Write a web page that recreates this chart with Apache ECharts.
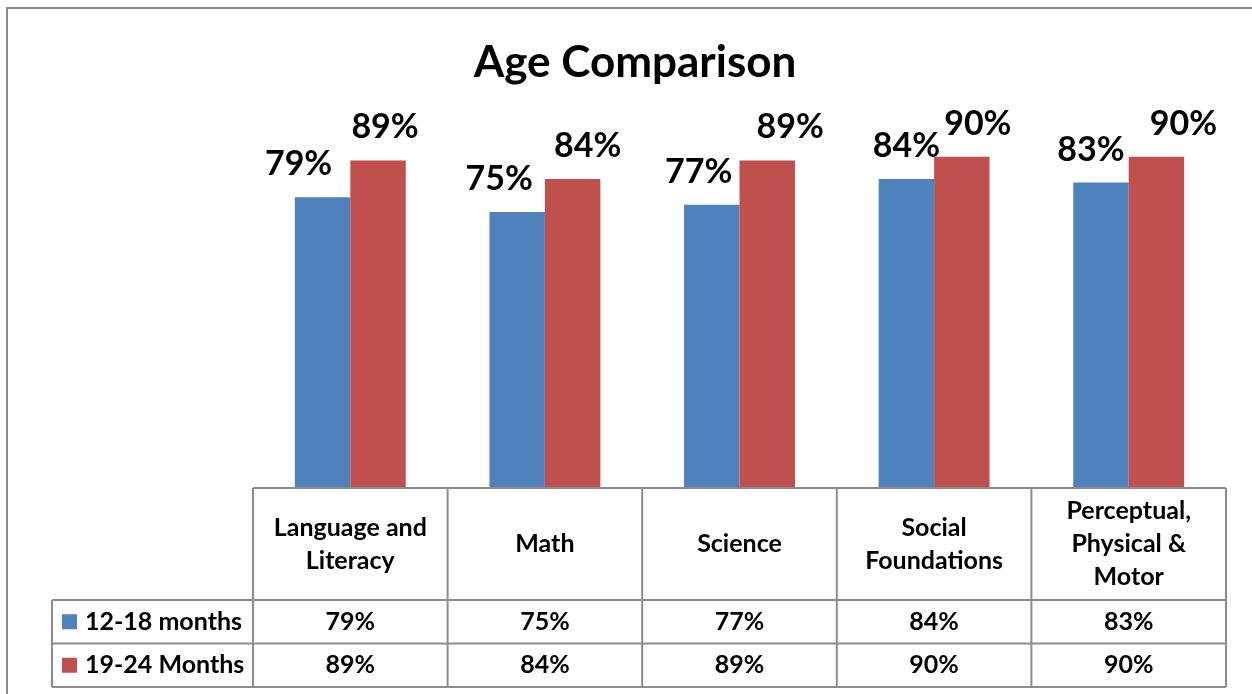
<!DOCTYPE html>
<html>
<head>
<meta charset="utf-8">
<script src="https://cdn.jsdelivr.net/npm/echarts@6/dist/echarts.min.js"></script>
<style>
html,body{margin:0;padding:0;background:#fff;}
#chart{width:1252px;height:694px;}
</style>
</head>
<body>
<div id="chart"></div>
<script>
const title = 'Age Comparison';
const categories = ['Language and\nLiteracy', 'Math', 'Science', 'Social\nFoundations', 'Perceptual,\nPhysical &\nMotor'];
const seriesNames = ['12-18 months', '19-24 Months'];
const values1218 = [79, 75, 77, 84, 83];
const values1924 = [89, 84, 89, 90, 90];

// layout-only: label nudges (px) reproducing the hand-placed labels
const labelShift1218 = [-24, -18, -13, 0, -10];
const labelShift1924 = [7, 15, 23, 16, 27];

const FONT = 'Lato';
const BLUE = '#4F81BD';
const RED = '#C0504D';
const GRID_LINE = '#8C8C8C';
const TABLE_FS = 25;

const chart = echarts.init(document.getElementById('chart'), null, {renderer: 'canvas'});

function mkData(vals, shifts) {
  return vals.map((v, i) => ({
    value: v,
    label: {offset: [shifts[i], 0]}
  }));
}

const option = {
  animation: false,
  backgroundColor: '#fff',
  title: {
    text: title,
    left: 630,
    top: 36,
    textAlign: 'center',
    textStyle: {fontFamily: FONT, fontWeight: 'bold', fontSize: 44, color: '#000'}
  },
  grid: {left: 253, right: 26, top: 120, bottom: 206, containLabel: false},
  xAxis: {
    type: 'category',
    data: categories,
    axisLine: {show: false},
    axisTick: {show: false},
    axisLabel: {
      interval: 0,
      margin: 56,
      verticalAlign: 'middle',
      fontFamily: FONT, fontWeight: 'bold', fontSize: TABLE_FS, lineHeight: 33, color: '#000'
    }
  },
  yAxis: {type: 'value', min: 0, max: 100, show: false},
  series: [
    {
      name: seriesNames[0], type: 'bar', data: mkData(values1218, labelShift1218),
      barWidth: '28.5%', barGap: '0%',
      itemStyle: {color: BLUE},
      label: {show: true, position: 'top', distance: 16, formatter: '{c}%',
        fontFamily: FONT, fontWeight: 'bold', fontSize: 34, color: '#000'}
    },
    {
      name: seriesNames[1], type: 'bar', data: mkData(values1924, labelShift1924),
      barWidth: '28.5%', barGap: '0%',
      itemStyle: {color: RED},
      label: {show: true, position: 'top', distance: 16, formatter: '{c}%',
        fontFamily: FONT, fontWeight: 'bold', fontSize: 34, color: '#000'}
    }
  ]
};
chart.setOption(option);

// Data table drawn below the plot, aligned with the category axis
function buildTable() {
  const c0 = chart.convertToPixel({xAxisIndex: 0}, 0);
  const c1 = chart.convertToPixel({xAxisIndex: 0}, 1);
  const band = c1 - c0;
  const xStart = c0 - band / 2;
  const xEnd = xStart + band * categories.length;
  const yBase = chart.convertToPixel({yAxisIndex: 0}, 0);
  const headerH = 112;
  const rowH = 43.5;
  const legendLeft = 52;
  const yRow1 = yBase + headerH;
  const yRow2 = yRow1 + rowH;
  const yEnd = yRow2 + rowH;
  const lw = 2;
  const els = [];
  const line = (x1, y1, x2, y2) => els.push({
    type: 'line', z: 10, shape: {x1, y1, x2, y2},
    style: {stroke: GRID_LINE, lineWidth: lw}
  });
  // outer chart border
  els.push({type: 'rect', z: 0, shape: {x: 7, y: 8, width: 1300, height: 720},
    style: {fill: null, stroke: '#8A8A8A', lineWidth: 2}});
  // horizontal lines
  line(xStart, yBase, xEnd, yBase);
  line(legendLeft, yRow1, xEnd, yRow1);
  line(legendLeft, yRow2, xEnd, yRow2);
  line(legendLeft, yEnd, xEnd, yEnd);
  // vertical lines
  line(legendLeft, yRow1, legendLeft, yEnd);
  for (let i = 0; i <= categories.length; i++) {
    const x = xStart + band * i;
    line(x, yBase, x, yEnd);
  }
  const rows = [values1218, values1924];
  const colors = [BLUE, RED];
  rows.forEach((vals, r) => {
    const yc = yRow1 + rowH * r + rowH / 2;
    els.push({type: 'rect', z: 11, shape: {x: 62, y: yc - 7.5, width: 15, height: 15},
      style: {fill: colors[r]}});
    els.push({type: 'text', z: 11, x: 85, y: yc,
      style: {text: seriesNames[r], fontFamily: FONT, fontWeight: 'bold', fontSize: TABLE_FS,
        fill: '#000', align: 'left', verticalAlign: 'middle'}});
    vals.forEach((v, i) => {
      els.push({type: 'text', z: 11, x: xStart + band * (i + 0.5), y: yc,
        style: {text: v + '%', fontFamily: FONT, fontWeight: 'bold', fontSize: TABLE_FS,
          fill: '#000', align: 'center', verticalAlign: 'middle'}});
    });
  });
  chart.setOption({graphic: {elements: els}});
}
buildTable();
</script>
</body>
</html>
